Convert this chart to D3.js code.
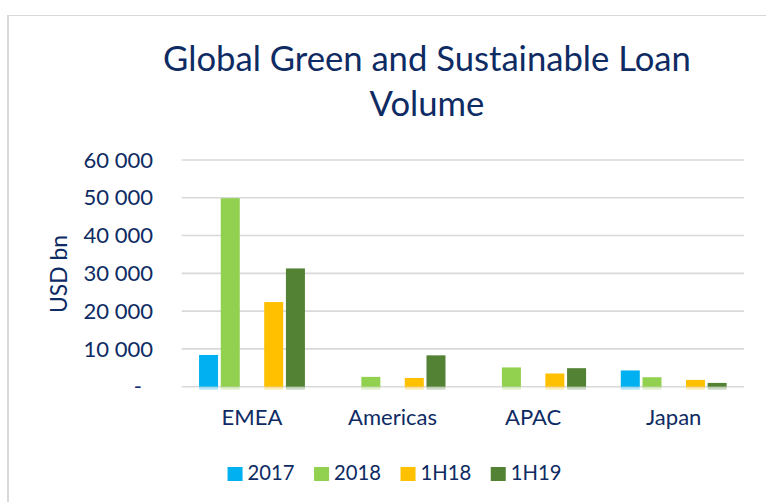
<!DOCTYPE html>
<html>
<head>
<meta charset="utf-8">
<script src="https://cdn.jsdelivr.net/npm/d3@7"></script>
<style>
  html, body { margin: 0; padding: 0; background: #fff; }
  svg { display: block; }
  text { font-family: Lato, "Open Sans", sans-serif; fill: #0e2b63; }
</style>
</head>
<body>
<svg id="chart" width="766" height="502"></svg>
<script>
// ---- data ----
const titleLines = ["Global Green and Sustainable Loan", "Volume"];
const yAxisTitle = "USD bn";
const categories = ["EMEA", "Americas", "APAC", "Japan"];
const seriesNames = ["2017", "2018", "1H18", "1H19"];
const seriesColors = ["#00b0f0", "#92d050", "#ffc000", "#548235"];
// slot layout: an empty slot sits between 2018 and 1H18 in the original
const slotKeys = ["2017", "2018", "", "1H18", "1H19"];
const values2017 = [8400, null, null, 4300];
const values2018 = [49900, 2600, 5100, 2500];
const values1H18 = [22400, 2300, 3500, 1800];
const values1H19 = [31300, 8300, 4900, 1000];
const yTicks = [0, 10000, 20000, 30000, 40000, 50000, 60000];

const seriesValues = { "2017": values2017, "2018": values2018, "1H18": values1H18, "1H19": values1H19 };

const svg = d3.select("#chart");

// frame
svg.append("line").attr("x1", 8).attr("x2", 766).attr("y1", 15.5).attr("y2", 15.5)
  .attr("stroke", "#d9d9d9").attr("stroke-width", 1.2);
svg.append("line").attr("x1", 8).attr("x2", 8).attr("y1", 15).attr("y2", 502)
  .attr("stroke", "#d9d9d9").attr("stroke-width", 2);

// helper: fit a text element to a target width by adjusting font-size
function fit(sel, target, base) {
  sel.style("font-size", base + "px");
  const w = sel.node().getComputedTextLength();
  const fs = base * target / w;
  sel.style("font-size", fs.toFixed(2) + "px");
  return fs;
}

// title
const t1 = svg.append("text").attr("x", 427).attr("y", 70.7).attr("text-anchor", "middle").text(titleLines[0]);
const titleFs = fit(t1, 528, 34);
svg.append("text").attr("x", 427).attr("y", 116).attr("text-anchor", "middle")
  .style("font-size", titleFs + "px").text(titleLines[1]);

// scales
const plotLeft = 181.7, plotRight = 744, plotTop = 160, plotBottom = 386.7;
const x0 = d3.scaleBand().domain(categories).range([plotLeft, plotRight]).padding(0);
const x1 = d3.scaleBand().domain(d3.range(slotKeys.length))
  .range([16, x0.bandwidth() - 16]).paddingInner(0.125).paddingOuter(0.0625);
const y = d3.scaleLinear().domain([0, 60000]).range([plotBottom, plotTop]);

// measure label font sizes
const probe = svg.append("text").text("Americas");
const labelFs = fit(probe, 89, 22);
probe.text("2017");
const legendFs = fit(probe, 47, 22);
probe.remove();

// gridlines
svg.append("g").selectAll("line").data(yTicks).join("line")
  .attr("x1", plotLeft).attr("x2", plotRight)
  .attr("y1", d => y(d)).attr("y2", d => y(d))
  .attr("stroke", "#d9d9d9").attr("stroke-width", 1.6);

// y axis labels
const fmt = d3.formatLocale({ thousands: " ", grouping: [3], decimal: ".", currency: ["", ""] }).format(",");
svg.append("g").selectAll("text").data(yTicks).join("text")
  .attr("x", d => d === 0 ? 142 : 153)
  .attr("y", d => y(d))
  .attr("dy", "0.35em")
  .attr("text-anchor", "end")
  .style("font-size", labelFs + "px")
  .text(d => d === 0 ? "-" : fmt(d));

// y axis title
const yt = svg.append("text")
  .attr("transform", "translate(67,274) rotate(-90)")
  .attr("text-anchor", "middle").text(yAxisTitle);
fit(yt, 78, 24);

// bars
const bars = [];
categories.forEach((c, i) => {
  slotKeys.forEach((k, j) => {
    if (!k) return;
    const v = seriesValues[k][i];
    if (v == null) return;
    bars.push({ cat: c, key: k, slot: j, value: v, color: seriesColors[seriesNames.indexOf(k)] });
  });
});
const gBars = svg.append("g");
// faint reflection under the baseline
gBars.selectAll("rect.refl").data(bars).join("rect").attr("class", "refl")
  .attr("x", d => x0(d.cat) + x1(d.slot))
  .attr("y", y(0))
  .attr("width", x1.bandwidth())
  .attr("height", 3)
  .attr("fill", d => d.color).attr("opacity", 0.3);
gBars.selectAll("rect.bar").data(bars).join("rect").attr("class", "bar")
  .attr("x", d => x0(d.cat) + x1(d.slot))
  .attr("y", d => y(d.value))
  .attr("width", x1.bandwidth())
  .attr("height", d => y(0) - y(d.value))
  .attr("fill", d => d.color);

// category labels
svg.append("g").selectAll("text").data(categories).join("text")
  .attr("x", d => x0(d) + x0.bandwidth() / 2)
  .attr("y", 425)
  .attr("text-anchor", "middle")
  .style("font-size", labelFs + "px")
  .text(d => d);

// legend
const lg = svg.append("g");
const items = lg.selectAll("g").data(seriesNames).join("g");
items.append("rect").attr("width", 15).attr("height", 14).attr("y", 467)
  .attr("fill", (d, i) => seriesColors[i]);
items.append("text").attr("x", 20).attr("y", 479.5)
  .style("font-size", legendFs + "px").text(d => d);
let widths = [];
items.each(function () { widths.push(20 + d3.select(this).select("text").node().getComputedTextLength()); });
const gap = 19.5;
const total = d3.sum(widths) + gap * (widths.length - 1);
let cx = 394.5 - total / 2;
items.each(function (d, i) {
  d3.select(this).attr("transform", `translate(${cx},0)`);
  cx += widths[i] + gap;
});
</script>
</body>
</html>
